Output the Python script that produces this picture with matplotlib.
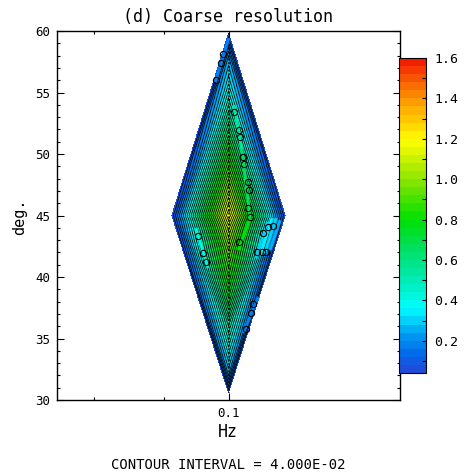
import numpy as np
import matplotlib
matplotlib.use("Agg")
import matplotlib.pyplot as plt
import matplotlib.tri as mtri
from matplotlib.colors import LinearSegmentedColormap, BoundaryNorm
from matplotlib.collections import LineCollection

# ---------------- data ----------------
# central column of the field (x = 0.1 Hz)
center_lat = [59.8, 58, 56, 54, 52, 50, 48, 46, 45, 44, 42, 40, 38, 36, 34, 32, 30.6]
center_val = [0.05, 0.24, 0.34, 0.48, 0.64, 0.8, 0.96, 1.12, 1.2, 1.1, 0.95, 0.84, 0.7, 0.52, 0.38, 0.24, 0.05]
center_x = 0.1
# side vertices of the field
side_x = [0.0835, 0.1165]
side_lat = [45.0, 45.0]
side_val = [0.05, 0.05]

# coloured streaks (x, lat, value per point)
streaks = [
    ([0.1001, 0.0961], [59.43, 55.85], [0.18, 0.18]),
    ([0.1016, 0.1039, 0.1063, 0.1029], [53.98, 50.33, 44.80, 42.19], [0.45, 0.6, 0.75, 0.8]),
    ([0.0905, 0.0940], [43.98, 40.73], [0.4, 0.4]),
    ([0.1139, 0.1104], [44.80, 41.71], [0.3, 0.3]),
    ([0.1127, 0.1092], [44.80, 41.71], [0.34, 0.34]),
    ([0.1115, 0.1080], [44.47, 41.54], [0.3, 0.3]),
    ([0.1150, 0.1121], [44.63, 42.19], [0.26, 0.26]),
    ([0.1087, 0.1043], [38.40, 35.45], [0.18, 0.18]),
]

# open-circle markers
marker_x = [0.0983, 0.0978, 0.0963,
            0.1017, 0.1031, 0.1034, 0.1041, 0.1046, 0.1058, 0.1059, 0.1058, 0.1063, 0.1032,
            0.0912, 0.0927, 0.0934,
            0.1116, 0.1130, 0.1101, 0.1082, 0.1097, 0.1109,
            0.1072, 0.1066, 0.1051]
marker_lat = [58.11, 57.42, 56.02,
              53.39, 51.95, 51.36, 49.78, 49.19, 47.75, 47.07, 45.59, 44.90, 42.82,
              43.36, 41.93, 41.24,
              44.09, 44.15, 43.58, 42.06, 42.06, 42.06,
              37.80, 37.10, 35.81]

cbar_ticks = [0.2, 0.4, 0.6, 0.8, 1.0, 1.2, 1.4, 1.6]
cbar_minor = [0.1, 0.3, 0.5, 0.7, 0.9, 1.1, 1.3, 1.5]
ytick_major = [30, 35, 40, 45, 50, 55, 60]
xtick_major = [0.1]
xtick_minor = [0.0608, 0.0812]

# ---------------- styling ----------------
FONT = "DejaVu Sans Mono"
plt.rcParams['font.family'] = FONT

anchors = [
    (0.04, (0.12, 0.30, 0.86)),
    (0.12, (0.00, 0.42, 0.92)),
    (0.22, (0.00, 0.62, 0.95)),
    (0.34, (0.00, 1.00, 1.00)),
    (0.50, (0.00, 0.92, 0.68)),
    (0.64, (0.00, 0.88, 0.40)),
    (0.80, (0.00, 0.88, 0.00)),
    (1.00, (0.55, 0.90, 0.00)),
    (1.20, (1.00, 1.00, 0.00)),
    (1.40, (1.00, 0.60, 0.00)),
    (1.60, (0.95, 0.12, 0.00)),
]
vmin, vmax = 0.04, 1.6
cmap = LinearSegmentedColormap.from_list(
    "ferret", [((v - vmin) / (vmax - vmin), c) for v, c in anchors])
levels = np.arange(0.04, 1.6001, 0.04)
norm = BoundaryNorm(levels, cmap.N)

fig = plt.figure(figsize=(4.65, 4.73), dpi=100)
W, H = 465.0, 473.0
ax = fig.add_axes([57 / W, 1 - 400 / H, 343 / W, 369 / H])
cax = fig.add_axes([399 / W, 1 - 373 / H, 27 / W, 315 / H])

x = np.array([center_x] * len(center_lat) + side_x)
y = np.array(center_lat + side_lat)
z = np.array(center_val + side_val)
tri = mtri.Triangulation(x, y)

cs = ax.tricontourf(tri, z, levels=levels, cmap=cmap, norm=norm)
ax.tricontour(tri, z, levels=levels, colors='k', linewidths=0.6)
ax.plot([center_x] * len(center_lat), center_lat, color='k', linestyle=(0, (1.2, 1.2)),
        linewidth=1.1, zorder=2)

for sx, sy, sv in streaks:
    pts = np.column_stack([sx, sy])
    segs = np.stack([pts[:-1], pts[1:]], axis=1)
    vals = 0.5 * (np.array(sv[:-1]) + np.array(sv[1:]))
    lc = LineCollection(segs, cmap=cmap, norm=norm, linewidths=2.2, zorder=3)
    lc.set_array(vals)
    ax.add_collection(lc)

ax.plot(marker_x, marker_lat, linestyle='none', marker='o', markersize=4.5,
        markerfacecolor='none', markeredgecolor='k', markeredgewidth=0.8, zorder=4)

ax.set_xlim(0.05, 0.15)
ax.set_ylim(30, 60)
ax.set_yticks(ytick_major)
ax.set_yticks(np.arange(30, 61, 1), minor=True)
ax.set_xticks(xtick_major)
ax.set_xticklabels(["0.1"])
ax.set_xticks(xtick_minor, minor=True)
ax.tick_params(which='both', direction='in', top=True, right=True, width=0.8,
               labelsize=9)
ax.tick_params(which='major', length=5, pad=5)
ax.tick_params(which='minor', length=2.5)
for sp in ax.spines.values():
    sp.set_linewidth(1.0)

cb = fig.colorbar(cs, cax=cax, ticks=cbar_ticks)
cb.ax.yaxis.set_ticks(cbar_minor, minor=True)
cb.ax.set_yticklabels([f"{t:.1f}" for t in cbar_ticks])
cb.ax.tick_params(which='both', direction='in', right=True, width=0.8,
                  labelsize=9.5, pad=6)
cb.ax.tick_params(which='major', length=3)
cb.ax.tick_params(which='minor', length=3)
cb.outline.set_linewidth(0.8)
cb.ax.set_ylim(0.04, 1.6)

fig.text(228 / W, 1 - 17 / H, "(d) Coarse resolution", ha='center', va='center', fontsize=12)
fig.text(228 / W, 1 - 432 / H, "Hz", ha='center', va='center', fontsize=12)
fig.text(20 / W, 1 - 217 / H, "deg.", ha='center', va='center', fontsize=11, rotation=90)
fig.text(228 / W, 1 - 465 / H, "CONTOUR INTERVAL = 4.000E-02", ha='center', va='center', fontsize=10)

fig.savefig("out.png", dpi=100)
